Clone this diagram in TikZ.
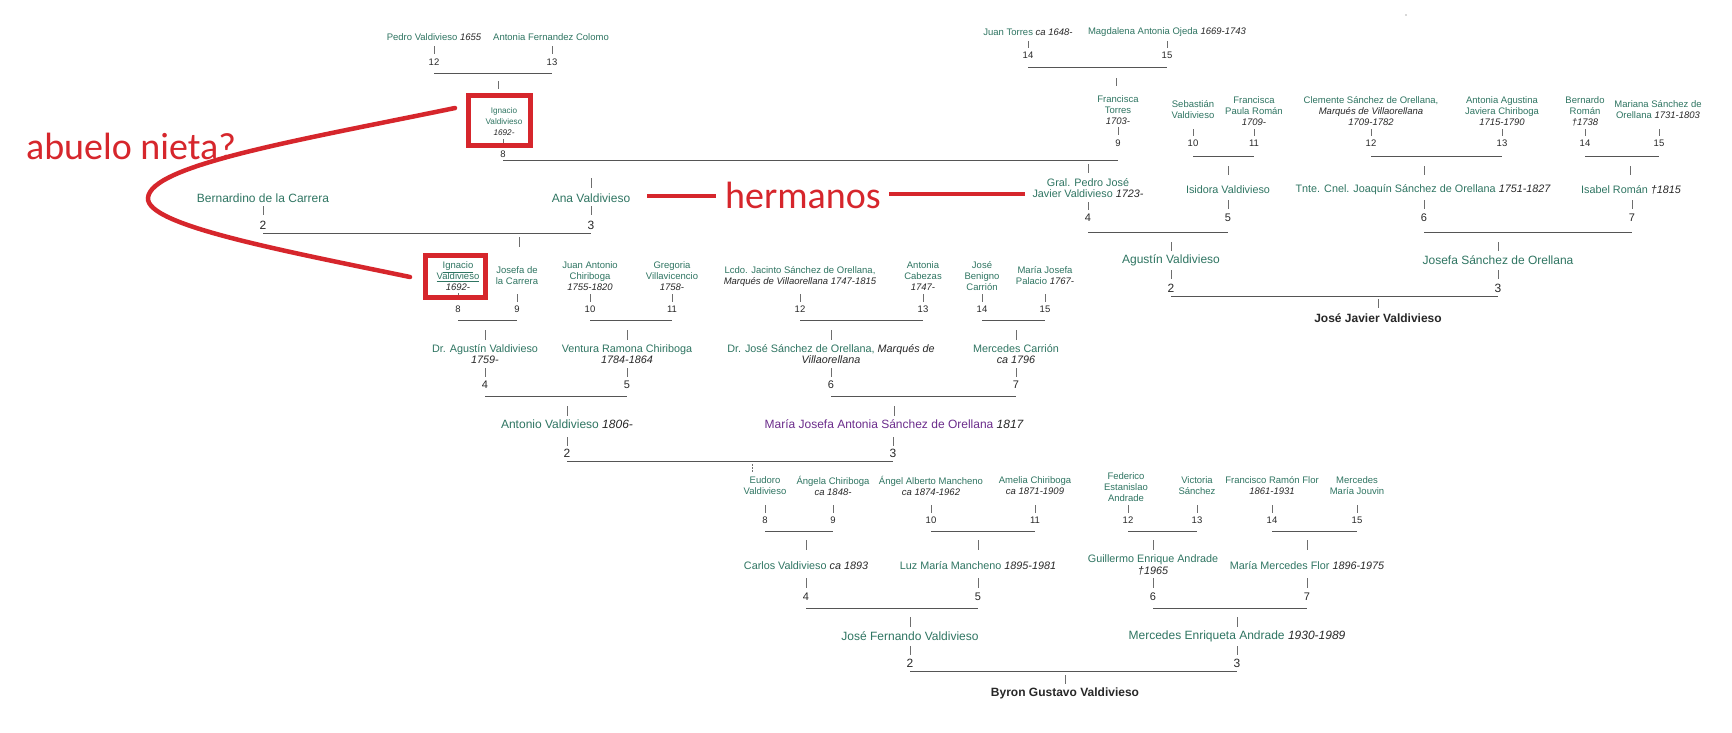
\documentclass[tikz,border=0pt]{standalone}
\usepackage{fontspec}
\setmainfont{Liberation Sans}
\newfontfamily\redfont{Carlito}
\definecolor{gn}{RGB}{47,117,98}
\definecolor{pu}{RGB}{108,45,140}
\definecolor{rd}{RGB}{214,38,44}
\definecolor{dk}{RGB}{40,40,40}
\definecolor{lc}{RGB}{85,85,85}
\definecolor{tc}{RGB}{110,110,110}
\newcommand\dt[1]{{\color{dk}\itshape #1}}
\tikzset{
 lb/.style={text=gn, align=center, inner sep=0pt},
 l2/.style={lb, font=\fontsize{12}{14}\selectfont},
 l3/.style={lb, font=\fontsize{10.8}{11.5}\selectfont},
 l4/.style={lb, font=\fontsize{9.5}{11}\selectfont},
 l5/.style={lb, font=\fontsize{8.2}{11}\selectfont},
 nm2/.style={text=dk, inner sep=0pt, font=\fontsize{12}{14}\selectfont},
 nm3/.style={text=dk, inner sep=0pt, font=\fontsize{11}{13}\selectfont},
 nm4/.style={text=dk, inner sep=0pt, font=\fontsize{9.5}{11}\selectfont},
 root/.style={text=dk, inner sep=0pt, font=\bfseries\fontsize{12}{14}\selectfont},
 hl/.style={draw=lc, line width=1pt},
 tk/.style={draw=tc, line width=0.75pt},
 rl/.style={draw=rd, line width=4.5pt},
 rbox/.style={draw=rd, line width=4.5pt},
 rt/.style={text=rd, inner sep=0pt, font=\redfont\fontsize{38}{40}\selectfont},
}
\begin{document}
\begin{tikzpicture}[x=1pt,y=-1pt]
\useasboundingbox[fill=white] (0,0) rectangle (1732,732);
\fill[gray!60] (1406,15) circle (0.8);

% ---------- top-left: Pedro / Antonia -> Ignacio ----------
\node[l4] (a12) at (434,37) {Pedro Valdivieso \dt{1655}};
\node[l4] (a13) at (551,37) {Antonia Fernandez Colomo};
\node[nm4] (na12) at (434,62) {12};
\node[nm4] (na13) at (552,62) {13};
\draw[tk] (na12 |- 0,46) -- (na12 |- 0,54);
\draw[tk] (na13 |- 0,46) -- (na13 |- 0,54);
\draw[hl] (na12 |- 0,73) -- (na13 |- 0,73);
\draw[tk] (498,81) -- (498,89);
\node[l5] (a8) at (504,122) {Ignacio\\Valdivieso\\\dt{1692-}};
\draw[tk] (503,139) -- (503,145);
\node[nm4] (na8) at (503,154) {8};

% ---------- Juan Torres / Magdalena -> Francisca ----------
\node[l4] (b14) at (1028,32) {Juan Torres \dt{ca 1648-}};
\node[l4] (b15) at (1167,32) {Magdalena Antonia Ojeda \dt{1669-1743}};
\node[nm4] (nb14) at (1028,55) {14};
\node[nm4] (nb15) at (1167,55) {15};
\draw[tk] (nb14 |- 0,41) -- (nb14 |- 0,48);
\draw[tk] (nb15 |- 0,41) -- (nb15 |- 0,48);
\draw[hl] (nb14 |- 0,67) -- (nb15 |- 0,67);
\draw[tk] (1116,78) -- (1116,86);
\node[l4] (b9) at (1118,110) {Francisca\\Torres\\\dt{1703-}};
\draw[tk] (1118,127) -- (1118,135);
\node[nm4] (nb9) at (1118,143) {9};
\draw[hl] (na8 |- 0,160) -- (nb9 |- 0,160);

% children of 8 + 9
\draw[tk] (1088,164) -- (1088,173);
\node[l3] (b4) at (1088,188) {Gral. Pedro José\\Javier Valdivieso \dt{1723-}};
\draw[tk] (1088,202) -- (1088,210);
\node[nm3] (nb4) at (1088,218) {4};

\draw[tk] (591,178) -- (591,188);
\node[l2] (g3) at (591,198) {Ana Valdivieso};
\node[l2] (g2) at (263,198) {Bernardino de la Carrera};
\draw[tk] (591,206) -- (591,215);
\draw[tk] (263,206) -- (263,215);
\node[nm2] (ng2) at (263,225) {2};
\node[nm2] (ng3) at (591,225) {3};
\draw[hl] (ng2 |- 0,233) -- (ng3 |- 0,233);
\draw[tk] (519,237) -- (519,247);

% ---------- right: Sebastián / Francisca Paula -> Isidora ----------
\node[l4] (c10) at (1193,110) {Sebastián\\Valdivieso};
\node[l4] (c11) at (1254,111) {Francisca\\Paula Román\\\dt{1709-}};
\node[nm4] (nc10) at (1193,143) {10};
\node[nm4] (nc11) at (1254,143) {11};
\draw[tk] (nc10 |- 0,129) -- (nc10 |- 0,136);
\draw[tk] (nc11 |- 0,129) -- (nc11 |- 0,136);
\draw[hl] (nc10 |- 0,156) -- (nc11 |- 0,156);
\draw[tk] (1228,166) -- (1228,175);
\node[l3] (c5) at (1228,190) {Isidora Valdivieso};
\draw[tk] (1228,200) -- (1228,209);
\node[nm3] (nc5) at (1228,218) {5};

% Clemente / Antonia Agustina -> Joaquín
\node[l4] (d12) at (1371,111) {Clemente Sánchez de Orellana,\\\dt{Marqués de Villaorellana}\\\dt{1709-1782}};
\node[l4] (d13) at (1502,111) {Antonia Agustina\\Javiera Chiriboga\\\dt{1715-1790}};
\node[nm4] (nd12) at (1371,143) {12};
\node[nm4] (nd13) at (1502,143) {13};
\draw[tk] (nd12 |- 0,129) -- (nd12 |- 0,136);
\draw[tk] (nd13 |- 0,129) -- (nd13 |- 0,136);
\draw[hl] (nd12 |- 0,156) -- (nd13 |- 0,156);
\draw[tk] (1424,166) -- (1424,175);
\node[l3] (d6) at (1423,190) {Tnte. Cnel. Joaquín Sánchez de Orellana \dt{1751-1827}};
\draw[tk] (1424,200) -- (1424,209);
\node[nm3] (nd6) at (1424,218) {6};

% Bernardo / Mariana -> Isabel
\node[l4] (e14) at (1585,111) {Bernardo\\Román\\\dt{†1738}};
\node[l4] (e15) at (1658,110) {Mariana Sánchez de\\Orellana \dt{1731-1803}};
\node[nm4] (ne14) at (1585,143) {14};
\node[nm4] (ne15) at (1659,143) {15};
\draw[tk] (ne14 |- 0,129) -- (ne14 |- 0,136);
\draw[tk] (ne15 |- 0,129) -- (ne15 |- 0,136);
\draw[hl] (ne14 |- 0,156) -- (ne15 |- 0,156);
\draw[tk] (1630,166) -- (1630,175);
\node[l3] (e7) at (1631,190) {Isabel Román \dt{†1815}};
\draw[tk] (1632,200) -- (1632,209);
\node[nm3] (ne7) at (1632,218) {7};

\draw[hl] (nb4 |- 0,232) -- (nc5 |- 0,232);
\draw[hl] (nd6 |- 0,232) -- (ne7 |- 0,232);
\draw[tk] (1171,242) -- (1171,251);
\draw[tk] (1498,242) -- (1498,251);
\node[l2] (f2) at (1171,260) {Agustín Valdivieso};
\node[l2] (f3) at (1498,260) {Josefa Sánchez de Orellana};
\draw[tk] (1171,270) -- (1171,279);
\draw[tk] (1498,270) -- (1498,279);
\node[nm2] (nf2) at (1171,288) {2};
\node[nm2] (nf3) at (1498,288) {3};
\draw[hl] (nf2 |- 0,296) -- (nf3 |- 0,296);
\draw[tk] (1378,299) -- (1378,308);
\node[root] (f1) at (1378,318) {José Javier Valdivieso};

% ---------- row 2 left ----------
\node[l4] (h8) at (458,276) {\underline{Ignacio}\\\underline{Valdivieso}\\\dt{1692-}};
\draw[tk] (458,293) -- (458,299);
\node[nm4] (nh8) at (458,309) {8};
\node[l4] (h9) at (517,276) {Josefa de\\la Carrera};
\draw[tk] (517,294) -- (517,302);
\node[nm4] (nh9) at (517,309) {9};
\node[l4] (h10) at (590,276) {Juan Antonio\\Chiriboga\\\dt{1755-1820}};
\draw[tk] (590,294) -- (590,302);
\node[nm4] (nh10) at (590,309) {10};
\node[l4] (h11) at (672,276) {Gregoria\\Villavicencio\\\dt{1758-}};
\draw[tk] (672,294) -- (672,302);
\node[nm4] (nh11) at (672,309) {11};
\draw[hl] (nh8 |- 0,320) -- (nh9 |- 0,320);
\draw[hl] (nh10 |- 0,320) -- (nh11 |- 0,320);
\draw[tk] (485,330) -- (485,340);
\draw[tk] (627,330) -- (627,340);
\node[l3] (h4) at (485,354) {Dr. Agustín Valdivieso\\\dt{1759-}};
\node[l3] (h5) at (627,354) {Ventura Ramona Chiriboga\\\dt{1784-1864}};
\draw[tk] (485,368) -- (485,377);
\draw[tk] (627,368) -- (627,377);
\node[nm3] (nh4) at (485,385) {4};
\node[nm3] (nh5) at (627,385) {5};
\draw[hl] (nh4 |- 0,396) -- (nh5 |- 0,396);
\draw[tk] (567,406) -- (567,416);

% ---------- row 2 middle ----------
\node[l4] (i12) at (800,276) {Lcdo. Jacinto Sánchez de Orellana,\\\dt{Marqués de Villaorellana 1747-1815}};
\node[l4] (i13) at (923,276) {Antonia\\Cabezas\\\dt{1747-}};
\node[l4] (i14) at (982,276) {José\\Benigno\\Carrión};
\node[l4] (i15) at (1045,276) {María Josefa\\Palacio \dt{1767-}};
\foreach \n/\x in {12/800,13/923,14/982,15/1045}{
  \node[nm4] (ni\n) at (\x,309) {\n};
  \draw[tk] (ni\n |- 0,294) -- (ni\n |- 0,302);
}
\draw[hl] (ni12 |- 0,320) -- (ni13 |- 0,320);
\draw[hl] (ni14 |- 0,320) -- (ni15 |- 0,320);
\draw[tk] (831,330) -- (831,340);
\draw[tk] (1016,330) -- (1016,340);
\node[l3] (i6) at (831,354) {Dr. José Sánchez de Orellana, \dt{Marqués de}\\\dt{Villaorellana}};
\node[l3] (i7) at (1016,354) {Mercedes Carrión\\\dt{ca 1796}};
\draw[tk] (831,368) -- (831,377);
\draw[tk] (1016,368) -- (1016,377);
\node[nm3] (ni6) at (831,385) {6};
\node[nm3] (ni7) at (1016,385) {7};
\draw[hl] (ni6 |- 0,396) -- (ni7 |- 0,396);
\draw[tk] (894,406) -- (894,416);

\node[l2] (j2) at (567,424) {Antonio Valdivieso \dt{1806-}};
\node[l2, text=pu] (j3) at (894,424) {María Josefa Antonia Sánchez de Orellana \dt{1817}};
\draw[tk] (567,437) -- (567,446);
\draw[tk] (893,437) -- (893,446);
\node[nm2] (nj2) at (567,453) {2};
\node[nm2] (nj3) at (893,453) {3};
\draw[hl] (nj2 |- 0,461) -- (nj3 |- 0,461);
\draw[tk, dash pattern=on 1.5pt off 1.5pt] (752,464) -- (752,472);

% ---------- Byron tree ----------
\node[l4] (k8) at (765,486) {Eudoro\\Valdivieso};
\node[l4] (k9) at (833,486) {Ángela Chiriboga\\\dt{ca 1848-}};
\node[l4] (k10) at (931,486) {Ángel Alberto Mancheno\\\dt{ca 1874-1962}};
\node[l4] (k11) at (1035,486) {Amelia Chiriboga\\\dt{ca 1871-1909}};
\node[l4] (k12) at (1126,487) {Federico\\Estanislao\\Andrade};
\node[l4] (k13) at (1197,486) {Victoria\\Sánchez};
\node[l4] (k14) at (1272,486) {Francisco Ramón Flor\\\dt{1861-1931}};
\node[l4] (k15) at (1357,486) {Mercedes\\María Jouvin};
\foreach \n/\x in {8/765,9/833,10/931,11/1035,12/1128,13/1197,14/1272,15/1357}{
  \node[nm4] (nk\n) at (\x,520) {\n};
  \draw[tk] (nk\n |- 0,505) -- (nk\n |- 0,513);
}
\draw[hl] (nk8 |- 0,531) -- (nk9 |- 0,531);
\draw[hl] (nk10 |- 0,531) -- (nk11 |- 0,531);
\draw[hl] (nk12 |- 0,531) -- (nk13 |- 0,531);
\draw[hl] (nk14 |- 0,531) -- (nk15 |- 0,531);
\node[l3] (k4) at (806,566) {Carlos Valdivieso \dt{ca 1893}};
\node[l3] (k5) at (978,566) {Luz María Mancheno \dt{1895-1981}};
\node[l3] (k6) at (1153,565) {Guillermo Enrique Andrade\\\dt{†1965}};
\node[l3] (k7) at (1307,566) {María Mercedes Flor \dt{1896-1975}};
\foreach \n/\x in {4/806,5/978,6/1153,7/1307}{
  \draw[tk] (\x,540) -- (\x,550);
  \draw[tk] (\x,578) -- (\x,588);
  \node[nm3] (nk\n) at (\x,597) {\n};
}
\draw[hl] (nk4 |- 0,608) -- (nk5 |- 0,608);
\draw[hl] (nk6 |- 0,608) -- (nk7 |- 0,608);
\draw[tk] (910,617) -- (910,627);
\draw[tk] (1237,617) -- (1237,627);
\node[l2] (m2) at (910,636) {José Fernando Valdivieso};
\node[l2] (m3) at (1237,636) {Mercedes Enriqueta Andrade \dt{1930-1989}};
\draw[tk] (910,646) -- (910,655);
\draw[tk] (1237,646) -- (1237,655);
\node[nm2] (nm2) at (910,663) {2};
\node[nm2] (nm3) at (1237,663) {3};
\draw[hl] (nm2 |- 0,671) -- (nm3 |- 0,671);
\draw[tk] (1065,675) -- (1065,684);
\node[root] (m1) at (1065,693) {Byron Gustavo Valdivieso};

% ---------- red annotations ----------
\draw[rbox] (468.5,95.5) rectangle (530.5,145.5);
\draw[rbox] (425.5,255.5) rectangle (485.5,297.5);
\coordinate (cA) at (455,108);
\coordinate (cM) at (148,198);
\coordinate (cB) at (410,277);
\draw[rl, line cap=round] (cA) .. controls (300,140) and (150,165) .. (cM)
   .. controls (146,225) and (280,250) .. (cB);
\node[rt] (abn) at (131,146) {abuelo nieta?};
\node[rt] (her) at (803,195) {hermanos};
\draw[rl] (647,196) -- (716,196);
\draw[rl] (889,194) -- (1025,194);
\end{tikzpicture}
\end{document}
